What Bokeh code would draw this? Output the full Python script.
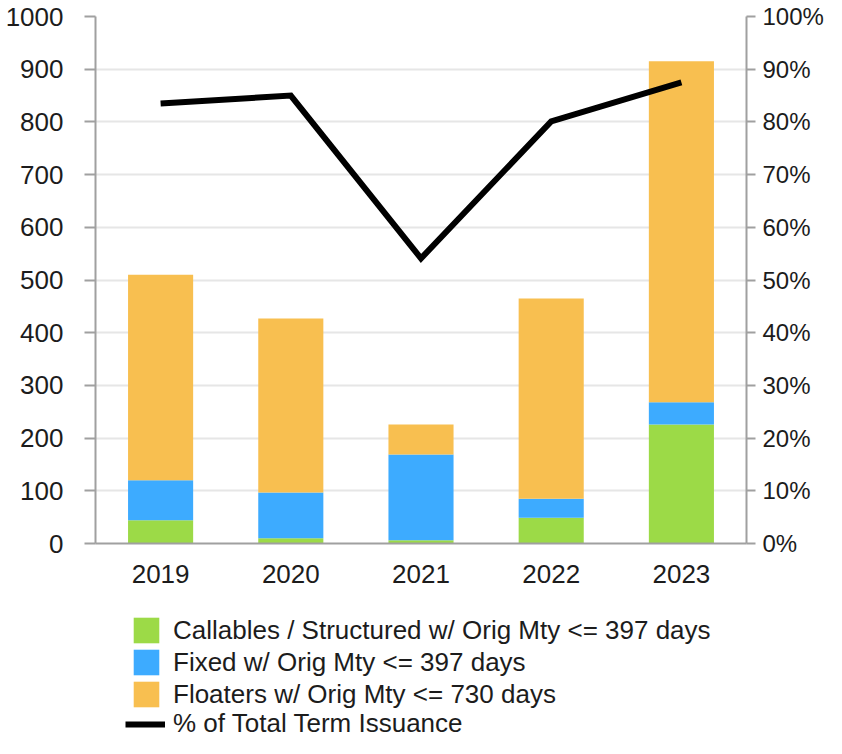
from bokeh.plotting import figure
from bokeh.layouts import column
from bokeh.models import (Range1d, LinearAxis, FactorRange, FixedTicker,
                          NumeralTickFormatter, Legend, LegendItem, ColumnDataSource)
from bokeh.embed import file_html
from bokeh.resources import INLINE

years = ["2019", "2020", "2021", "2022", "2023"]
callables = [44, 10, 6, 49, 226]
fixed = [76, 87, 163, 36, 42]
floaters = [390, 330, 57, 380, 647]
pct_term = [0.835, 0.850, 0.541, 0.801, 0.875]

left_ticks = list(range(0, 1001, 100))
right_ticks = [i / 10 for i in range(11)]

series_labels = ["Callables / Structured w/ Orig Mty <= 397 days",
                 "Fixed w/ Orig Mty <= 397 days",
                 "Floaters w/ Orig Mty <= 730 days"]
line_label = "% of Total Term Issuance"
colors = ["#9CDA47", "#3DABFF", "#F8BF50"]

FONT = "Liberation Sans"
FS = "26px"
TXT = "#1c1c1c"
AXC = "#a0a0a0"

src = ColumnDataSource(dict(year=years, callables=callables, fixed=fixed,
                            floaters=floaters, pct=pct_term))

# ---- main chart ----
p = figure(x_range=FactorRange(factors=years), y_range=Range1d(0, 1000),
           width=826, height=600, output_backend="svg", toolbar_location=None,
           min_border_left=95, min_border_right=78, min_border_top=16,
           min_border_bottom=57)
p.outline_line_color = None
p.extra_y_ranges = {"pct": Range1d(0, 1)}

bars = p.vbar_stack(["callables", "fixed", "floaters"], x="year", width=0.5,
                    fill_color=colors, line_color=None, source=src)
line = p.line("year", "pct", source=src, y_range_name="pct", line_color="black",
              line_width=6, line_join="miter")

lt = FixedTicker(ticks=left_ticks)
yl = p.yaxis[0]
yl.ticker = lt
p.ygrid.ticker = lt
p.ygrid.grid_line_color = "#e6e6e6"
p.ygrid.grid_line_width = 2
p.xgrid.visible = False

right = LinearAxis(y_range_name="pct", ticker=FixedTicker(ticks=right_ticks),
                   formatter=NumeralTickFormatter(format="0%"))
p.add_layout(right, "right")

for ax in [yl, right]:
    ax.axis_line_color = AXC
    ax.axis_line_width = 2
    ax.major_tick_line_color = AXC
    ax.major_tick_line_width = 2
    ax.major_tick_in = 0
    ax.minor_tick_line_color = None
    ax.major_label_text_font = FONT
    ax.major_label_text_color = TXT
yl.major_tick_out = 11
yl.major_label_standoff = 21
yl.major_label_text_font_size = FS
right.major_tick_out = 9
right.major_label_standoff = 7
right.major_label_text_font_size = "24px"

xa = p.xaxis[0]
xa.axis_line_color = AXC
xa.axis_line_width = 2
xa.major_tick_line_color = None
xa.major_tick_out = 0
xa.major_tick_in = 0
xa.major_label_standoff = 21
xa.major_label_text_font = FONT
xa.major_label_text_font_size = FS
xa.major_label_text_color = TXT

# ---- legend strip (frame aligned with the chart frame by the column) ----
q = figure(width=826, height=138, output_backend="svg", toolbar_location=None,
           x_axis_type=None, y_axis_type=None, min_border=0,
           x_range=Range1d(0, 1), y_range=Range1d(0, 1))
q.outline_line_color = None
q.grid.visible = False
# hidden placeholder glyphs that only provide the legend swatches
dummy = ColumnDataSource(dict(x=[0.5, 0.6], top=[0.5, 0.6], y=[0.5, 0.6]))
lg_bars = [q.vbar(x="x", top="top", width=0.1, fill_color=c, line_color=None,
                  source=dummy, visible=False) for c in colors]
lg_line = q.line(x="x", y="y", line_color="black", line_width=6, source=dummy,
                 visible=False)

common = dict(padding=0, margin=0, border_line_color=None, background_fill_alpha=0,
              label_text_font=FONT, label_text_font_size=FS, label_text_color=TXT,
              click_policy="none")

leg1 = Legend(items=[LegendItem(label=lab, renderers=[r]) for lab, r in zip(series_labels, lg_bars)],
              location=(35, 28), glyph_width=32, glyph_height=32, label_height=26,
              spacing=0, label_standoff=11, **common)
leg2 = Legend(items=[LegendItem(label=line_label, renderers=[lg_line])],
              location=(30, -1), glyph_width=40, glyph_height=20, label_height=20,
              label_standoff=8, **common)
q.add_layout(leg1)
q.add_layout(leg2)

layout = column(p, q, spacing=0)
open("out.html", "w").write(file_html(layout, INLINE))
